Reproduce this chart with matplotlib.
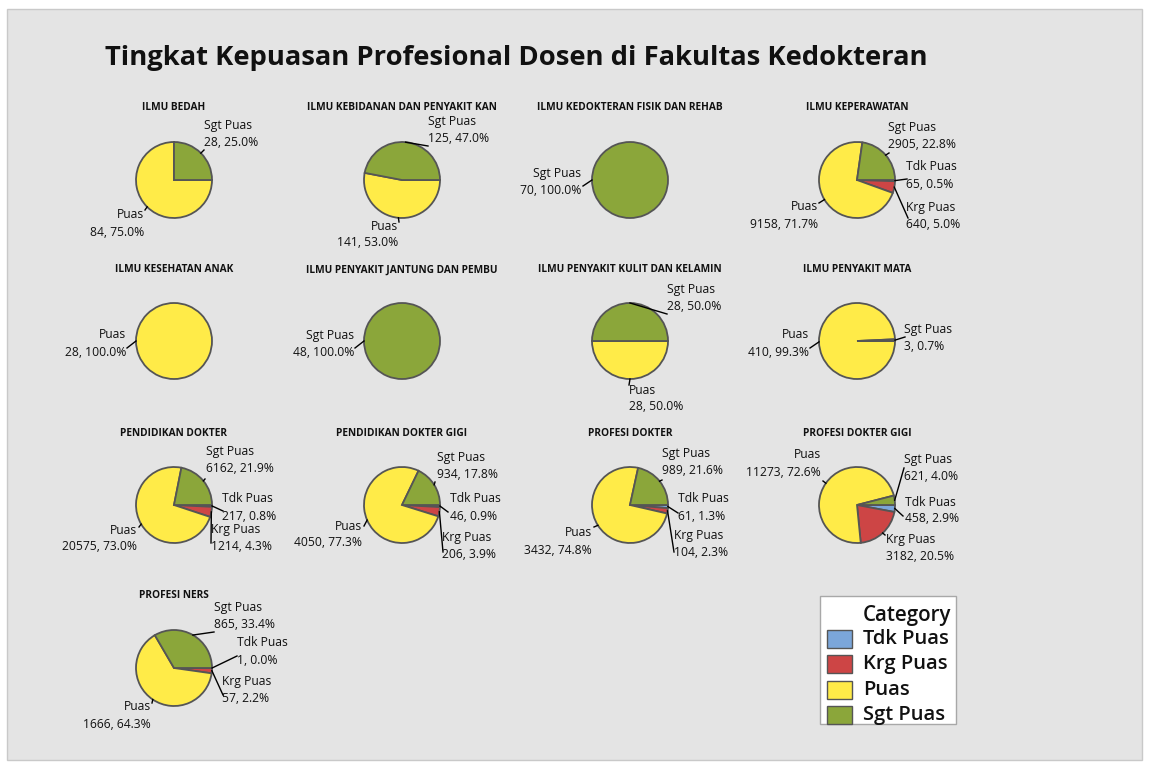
import math
import matplotlib
matplotlib.use("Agg")
import matplotlib.pyplot as plt
from matplotlib.patches import Rectangle

plt.rcParams['font.family'] = ['Open Sans', 'DejaVu Sans']

W, H = 1149, 767

# ---------------- data ----------------
categories = ["Tdk Puas", "Krg Puas", "Puas", "Sgt Puas"]
colors = ["#7BA6DA", "#CD4545", "#FFEB48", "#8BA63A"]

panels = [
    "ILMU BEDAH", "ILMU KEBIDANAN DAN PENYAKIT KAN", "ILMU KEDOKTERAN FISIK DAN REHAB", "ILMU KEPERAWATAN",
    "ILMU KESEHATAN ANAK", "ILMU PENYAKIT JANTUNG DAN PEMBU", "ILMU PENYAKIT KULIT DAN KELAMIN", "ILMU PENYAKIT MATA",
    "PENDIDIKAN DOKTER", "PENDIDIKAN DOKTER GIGI", "PROFESI DOKTER", "PROFESI DOKTER GIGI",
    "PROFESI NERS",
]
tdk_puas = [0, 0, 0, 65, 0, 0, 0, 0, 217, 46, 61, 458, 1]
krg_puas = [0, 0, 0, 640, 0, 0, 0, 0, 1214, 206, 104, 3182, 57]
puas     = [84, 141, 0, 9158, 28, 0, 28, 410, 20575, 4050, 3432, 11273, 1666]
sgt_puas = [28, 125, 70, 2905, 0, 48, 28, 3, 6162, 934, 989, 621, 865]

title = "Tingkat Kepuasan Profesional Dosen di Fakultas Kedokteran"

# ---------------- layout (screen pixels, y downward) ----------------
col_x = [174, 402, 630, 857]
row_y = [180, 341, 505, 668]
title_row_y = [108, 270, 433, 596]
R = 38
# label layout: category -> (text dx, text dy (first line), ha, leader end dx, leader end dy)
label_layout = [
    {"Sgt Puas": (30, -54, "left", 30, -30), "Puas": (-30, 35, "right", -29, 30)},
    {"Sgt Puas": (26, -59, "left", 26, -34), "Puas": (-4, 46, "right", -3, 42)},
    {"Sgt Puas": (-49, -6, "right", -47, 6)},
    {"Sgt Puas": (31, -53, "left", 32, -27), "Tdk Puas": (49, -13, "left", 50, -1),
     "Krg Puas": (49, 27, "left", 51, 38), "Puas": (-39, 27, "right", -38, 23)},
    {"Puas": (-48, -6, "right", -47, 7)},
    {"Sgt Puas": (-48, -6, "right", -47, 7)},
    {"Sgt Puas": (37, -52, "left", 37, -27), "Puas": (-1, 49, "left", -1, 44)},
    {"Puas": (-48, -6, "right", -47, 7), "Sgt Puas": (47, -12, "left", 48, -4)},
    {"Sgt Puas": (32, -53, "left", 31, -26), "Tdk Puas": (48, -6, "left", 49, 6),
     "Krg Puas": (37, 25, "left", 37, 38), "Puas": (-37, 25, "right", -35, 22)},
    {"Sgt Puas": (35, -48, "left", 33, -23), "Tdk Puas": (48, -6, "left", 46, 7),
     "Krg Puas": (40, 32, "left", 41, 47), "Puas": (-40, 21, "right", -38, 21)},
    {"Sgt Puas": (32, -51, "left", 32, -25), "Tdk Puas": (48, -6, "left", 48, 8),
     "Krg Puas": (44, 30, "left", 44, 47), "Puas": (-38, 28, "right", -36, 22)},
    {"Puas": (-36, -50, "right", -34, -24), "Sgt Puas": (47, -45, "left", 47, -37),
     "Tdk Puas": (48, -3, "left", 46, 11), "Krg Puas": (29, 34, "left", 28, 30)},
    {"Sgt Puas": (40, -61, "left", 40, -36), "Tdk Puas": (63, -25, "left", 63, -12),
     "Krg Puas": (48, 13, "left", 49, 27), "Puas": (-23, 39, "right", -22, 35)},
]

fig = plt.figure(figsize=(W / 100, H / 100), dpi=100)
fig.patch.set_facecolor("white")
ax = fig.add_axes([0, 0, 1, 1])
ax.set_axis_off()

def Y(y):
    return H - y

# background panel
ax.add_patch(Rectangle((7, Y(760)), 1135, 751, facecolor="#E4E4E4",
                       edgecolor="#C9C9C9", linewidth=1.0, zorder=0))

ax.text(105, Y(58), title, fontsize=19.7, fontweight="bold", ha="left", va="center",
        color="#111111")

series = [tdk_puas, krg_puas, puas, sgt_puas]
for i, name in enumerate(panels):
    cx = col_x[i % 4]
    cy = row_y[i // 4]
    ax.text(cx, Y(title_row_y[i // 4]), name, fontsize=7.3, fontweight="bold",
            ha="center", va="center", color="#111111")
    vals = [s[i] for s in series]
    total = sum(vals)
    keep = [k for k, v in enumerate(vals) if v > 0]
    wedges, _ = ax.pie([vals[k] for k in keep], colors=[colors[k] for k in keep],
                       startangle=0, counterclock=False, center=(cx, Y(cy)), radius=R,
                       wedgeprops=dict(edgecolor="#555555", linewidth=1.3))
    for w, k in zip(wedges, keep):
        cat = categories[k]
        tdx, tdy, ha, edx, edy = label_layout[i][cat]
        mid = math.radians((w.theta1 + w.theta2) / 2)
        sx = cx + R * math.cos(mid)
        sy = Y(cy) + R * math.sin(mid)
        ax.plot([sx, cx + edx], [sy, Y(cy + edy)], color="black", lw=1.0, zorder=5)
        ax.text(cx + tdx, Y(cy + tdy), cat, fontsize=8.7, ha=ha, va="center", color="#111111")
        ax.text(cx + tdx, Y(cy + tdy + 17), f"{vals[k]}, {100 * vals[k] / total:.1f}%",
                fontsize=8.7, ha=ha, va="center", color="#111111")

# legend
ax.add_patch(Rectangle((820, Y(724)), 136, 128, facecolor="white", edgecolor="#A8A8A8",
                       linewidth=1.0, zorder=6))
ax.text(863, Y(615), "Category", fontsize=14.8, fontweight="semibold", ha="left",
        va="center", zorder=7, color="#111111")
for j, (cat, col) in enumerate(zip(categories, colors)):
    yy = 639 + j * 25.3
    ax.add_patch(Rectangle((827, Y(yy + 9)), 25, 18, facecolor=col, edgecolor="#555555",
                           linewidth=1.0, zorder=7))
    ax.text(863, Y(yy), cat, fontsize=14.5, fontweight="semibold", ha="left",
            va="center", zorder=7, color="#111111")

ax.set_xlim(0, W)
ax.set_ylim(0, H)
ax.set_aspect("equal")
fig.savefig("out.png", dpi=100, facecolor="white")
